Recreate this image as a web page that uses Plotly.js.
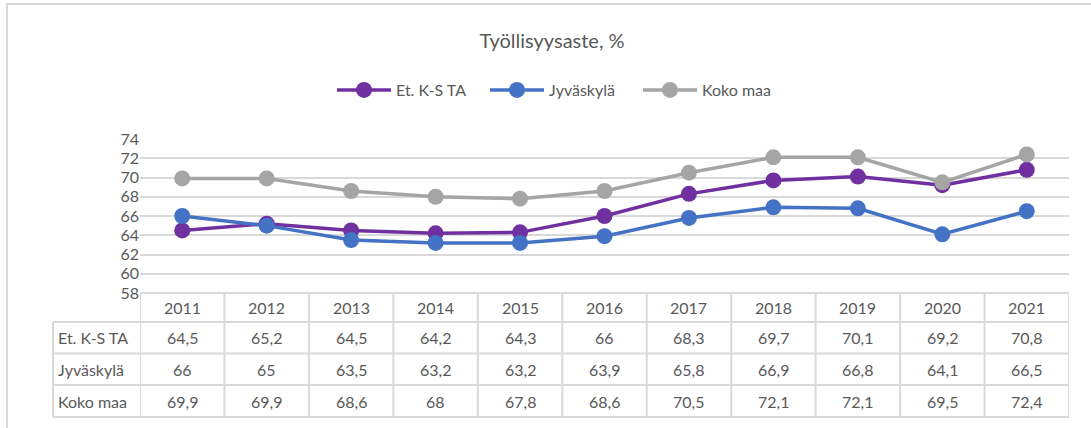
<!DOCTYPE html>
<html>
<head>
<meta charset="utf-8">
<script src="https://cdn.plot.ly/plotly-3.0.1.min.js"></script>
<style>html,body{margin:0;padding:0;background:#fff;}#chart{width:1091px;height:428px;}</style>
</head>
<body>
<div id="chart"></div>
<script>
const years = ["2011","2012","2013","2014","2015","2016","2017","2018","2019","2020","2021"];
const seriesNames = ["Et. K-S TA", "Jyväskylä", "Koko maa"];
const etKsTa = [64.5, 65.2, 64.5, 64.2, 64.3, 66, 68.3, 69.7, 70.1, 69.2, 70.8];
const jyvaskyla = [66, 65, 63.5, 63.2, 63.2, 63.9, 65.8, 66.9, 66.8, 64.1, 66.5];
const kokoMaa = [69.9, 69.9, 68.6, 68, 67.8, 68.6, 70.5, 72.1, 72.1, 69.5, 72.4];
const yTicks = [58, 60, 62, 64, 66, 68, 70, 72, 74];
const colors = ["#7030A0", "#4472C4", "#A5A5A5"];
const titleText = "Työllisyysaste, %";

const W = 1091, H = 428;
const px = x => x / W;
const py = y => 1 - y / H;
const plotL = 140, plotR = 1069, plotT = 139, plotB = 293;
const tableL = 53;
const rowLines = [322, 353.5, 385, 417];
const textColor = "#595959";
const gridColor = "#d9d9d9";
const fontFam = "Lato, 'Open Sans', sans-serif";

const allSeries = [etKsTa, jyvaskyla, kokoMaa];
const idx = years.map((_, i) => i);
const traces = allSeries.map((vals, s) => ({
  type: "scatter", mode: "lines+markers", name: seriesNames[s],
  x: idx, y: vals,
  line: {color: colors[s], width: 3.5},
  marker: {color: colors[s], size: 16},
  hoverinfo: "skip"
}));

const shapes = [];
const annotations = [];
// outer frame
shapes.push({type: "rect", xref: "paper", yref: "paper", x0: px(7), x1: 1.05, y0: -0.05, y1: py(4), line: {color: gridColor, width: 2}, fillcolor: "rgba(0,0,0,0)"});
// table horizontal lines
shapes.push({type: "line", xref: "paper", yref: "paper", x0: px(plotL), x1: px(plotR), y0: py(plotB), y1: py(plotB), line: {color: gridColor, width: 2}});
rowLines.forEach(y => shapes.push({type: "line", xref: "paper", yref: "paper", x0: px(tableL), x1: px(plotR), y0: py(y), y1: py(y), line: {color: gridColor, width: 2}}));
// vertical lines
shapes.push({type: "line", xref: "paper", yref: "paper", x0: px(tableL), x1: px(tableL), y0: py(rowLines[0]), y1: py(rowLines[3]), line: {color: gridColor, width: 2}});
for (let i = 0; i <= years.length; i++) {
  shapes.push({type: "line", xref: "x", yref: "paper", x0: i - 0.5, x1: i - 0.5, y0: py(plotB), y1: py(rowLines[3]), line: {color: gridColor, width: 2}});
}
// header years
const cellFont = {family: fontFam, size: 16, color: textColor};
const headerY = py((plotB + rowLines[0]) / 2);
years.forEach((yr, i) => annotations.push({xref: "x", yref: "paper", x: i, y: headerY, text: yr, showarrow: false, xanchor: "center", yanchor: "middle", font: cellFont}));
const fmt = v => String(v).replace(".", ",");
allSeries.forEach((vals, s) => {
  const yc = py((rowLines[s] + rowLines[s + 1]) / 2);
  annotations.push({xref: "paper", yref: "paper", x: px(56), y: yc, text: seriesNames[s], showarrow: false, xanchor: "left", yanchor: "middle", font: cellFont});
  vals.forEach((v, i) => annotations.push({xref: "x", yref: "paper", x: i, y: yc, text: fmt(v), showarrow: false, xanchor: "center", yanchor: "middle", font: cellFont}));
});

const layout = {
  width: W, height: H,
  margin: {l: 0, r: 0, t: 0, b: 0},
  paper_bgcolor: "#fff", plot_bgcolor: "#fff",
  title: {text: titleText, x: px(552), xanchor: "center", y: py(41), yanchor: "middle", font: {family: fontFam, size: 20, color: textColor}},
  showlegend: true,
  legend: {orientation: "h", x: px(332), xanchor: "left", y: py(90), yanchor: "middle", font: {family: fontFam, size: 16, color: textColor}, itemwidth: 54, entrywidth: 84, tracegroupgap: 0},
  xaxis: {domain: [px(plotL), px(plotR)], range: [-0.5, years.length - 0.5], showgrid: false, zeroline: false, showticklabels: false, showline: false, fixedrange: true},
  yaxis: {domain: [py(plotB), py(plotT)], range: [58, 74], tickvals: yTicks, ticktext: yTicks.map(String), showgrid: true, gridcolor: gridColor, gridwidth: 2, zeroline: false, showline: false, ticks: "", ticklen: 0, tickfont: {family: fontFam, size: 16, color: textColor}, fixedrange: true},
  shapes: shapes,
  annotations: annotations
};

Plotly.newPlot("chart", traces, layout, {displayModeBar: false, staticPlot: true});
</script>
</body>
</html>
